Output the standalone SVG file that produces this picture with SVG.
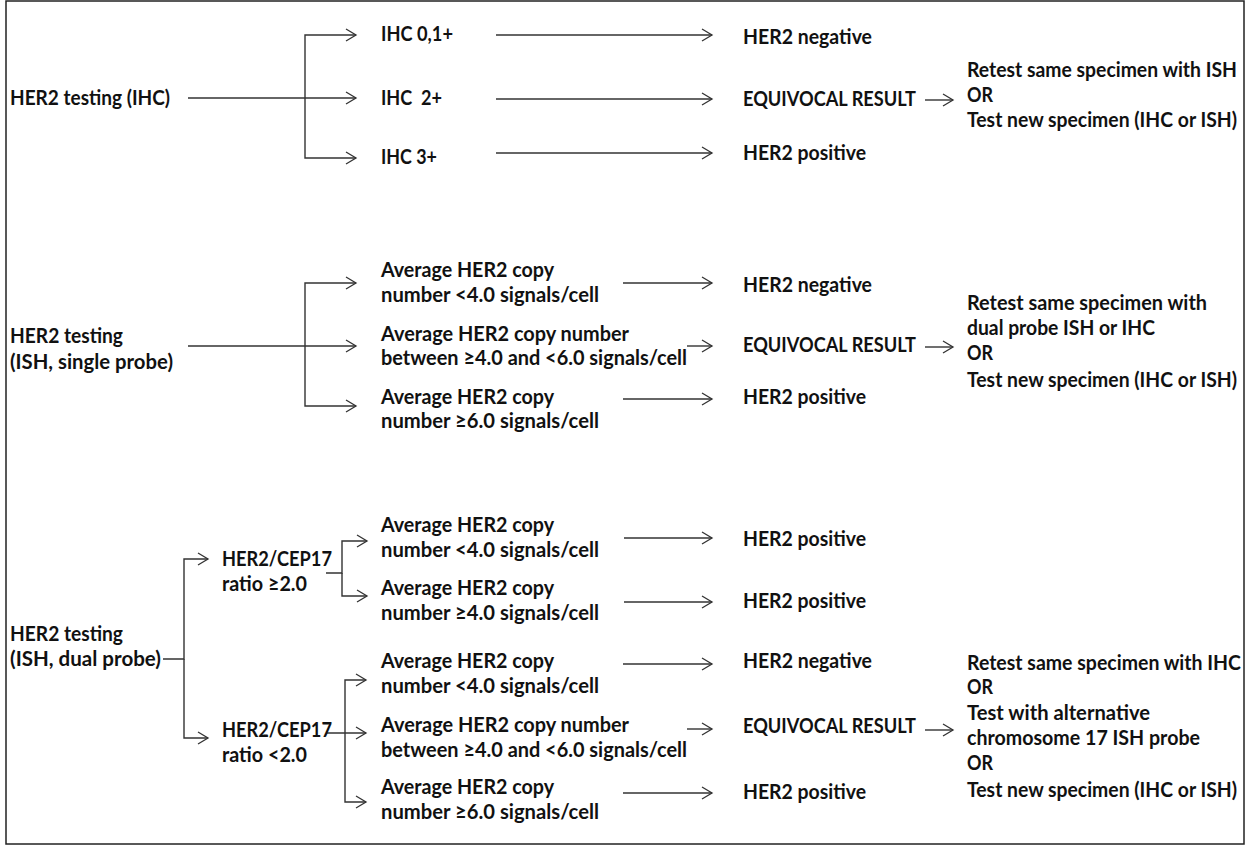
<svg xmlns="http://www.w3.org/2000/svg" width="1247" height="846" viewBox="0 0 1247 846">
<defs>
<style>
.t{font-family:Lato,"Open Sans","Liberation Sans",sans-serif;font-weight:bold;font-size:20px;fill:#111;}
.c{fill:none;stroke:#333;stroke-width:1.4;}
</style>
<marker id="ah" markerUnits="userSpaceOnUse" markerWidth="14" markerHeight="14" refX="11" refY="7" orient="auto">
<path d="M1,1 L11,7 L1,13" fill="none" stroke="#333" stroke-width="1.3"/>
</marker>
</defs>
<rect x="0" y="0" width="1247" height="846" fill="#fff"/>
<rect x="6" y="1" width="1238" height="843" fill="none" stroke="#222" stroke-width="1.5"/>

<g id="connectors" class="c" marker-end="url(#ah)">
<!-- section 1 -->
<path d="M188,98 H356"/>
<path d="M305,98 V35 H356"/>
<path d="M305,98 V158 H356"/>
<path d="M496,35 H712"/>
<path d="M496,99 H712"/>
<path d="M496,153 H712"/>
<path d="M925,100 H953"/>
<!-- section 2 -->
<path d="M188,346 H356"/>
<path d="M305,346 V283 H356"/>
<path d="M305,346 V406 H356"/>
<path d="M623,283 H712"/>
<path d="M687,346 H712"/>
<path d="M623,399 H712"/>
<path d="M925,347 H953"/>
<!-- section 3 -->
<path d="M163,659 H184 V559 H208"/>
<path d="M184,659 V738 H208"/>
<path d="M326,573 H342 V541 H367"/>
<path d="M342,573 V596 H367"/>
<path d="M624,538 H712"/>
<path d="M624,602 H712"/>
<path d="M326,733 H366"/>
<path d="M345,733 V680 H366"/>
<path d="M345,733 V802 H366"/>
<path d="M623,664 H712"/>
<path d="M687,729 H712"/>
<path d="M623,793 H712"/>
<path d="M925,730 H953"/>
</g>

<!-- Section 1 -->
<g id="n-ihc-test"><text class="t" x="10" y="105" textLength="160" lengthAdjust="spacingAndGlyphs">HER2 testing (IHC)</text></g>
<g id="n-ihc01"><text class="t" x="381" y="41" textLength="72" lengthAdjust="spacingAndGlyphs">IHC 0,1+</text></g>
<g id="n-ihc2"><text class="t" x="381" y="105" textLength="61" lengthAdjust="spacingAndGlyphs" xml:space="preserve">IHC  2+</text></g>
<g id="n-ihc3"><text class="t" x="381" y="164" textLength="56" lengthAdjust="spacingAndGlyphs">IHC 3+</text></g>
<g id="n-s1-neg"><text class="t" x="743" y="44" textLength="129" lengthAdjust="spacingAndGlyphs">HER2 negative</text></g>
<g id="n-s1-eq"><text class="t" x="743" y="106" textLength="173" lengthAdjust="spacingAndGlyphs">EQUIVOCAL RESULT</text></g>
<g id="n-s1-pos"><text class="t" x="743" y="160" textLength="123" lengthAdjust="spacingAndGlyphs">HER2 positive</text></g>
<g id="n-s1-retest">
<text class="t" x="967" y="77" textLength="270" lengthAdjust="spacingAndGlyphs">Retest same specimen with ISH</text>
<text class="t" x="967" y="102" textLength="26" lengthAdjust="spacingAndGlyphs">OR</text>
<text class="t" x="967" y="127" textLength="270" lengthAdjust="spacingAndGlyphs">Test new specimen (IHC or ISH)</text>
</g>

<!-- Section 2 -->
<g id="n-ish-single">
<text class="t" x="10" y="343" textLength="113" lengthAdjust="spacingAndGlyphs">HER2 testing</text>
<text class="t" x="10" y="369" textLength="163" lengthAdjust="spacingAndGlyphs">(ISH, single probe)</text>
</g>
<g id="n-s2-lt4">
<text class="t" x="381" y="277" textLength="173" lengthAdjust="spacingAndGlyphs">Average HER2 copy</text>
<text class="t" x="381" y="302" textLength="218" lengthAdjust="spacingAndGlyphs">number &lt;4.0 signals/cell</text>
</g>
<g id="n-s2-mid">
<text class="t" x="381" y="341" textLength="248" lengthAdjust="spacingAndGlyphs">Average HER2 copy number</text>
<text class="t" x="381" y="365" textLength="306" lengthAdjust="spacingAndGlyphs">between ≥4.0 and &lt;6.0 signals/cell</text>
</g>
<g id="n-s2-ge6">
<text class="t" x="381" y="404" textLength="173" lengthAdjust="spacingAndGlyphs">Average HER2 copy</text>
<text class="t" x="381" y="428" textLength="218" lengthAdjust="spacingAndGlyphs">number ≥6.0 signals/cell</text>
</g>
<g id="n-s2-neg"><text class="t" x="743" y="292" textLength="129" lengthAdjust="spacingAndGlyphs">HER2 negative</text></g>
<g id="n-s2-eq"><text class="t" x="743" y="352" textLength="173" lengthAdjust="spacingAndGlyphs">EQUIVOCAL RESULT</text></g>
<g id="n-s2-pos"><text class="t" x="743" y="404" textLength="123" lengthAdjust="spacingAndGlyphs">HER2 positive</text></g>
<g id="n-s2-retest">
<text class="t" x="967" y="310" textLength="240" lengthAdjust="spacingAndGlyphs">Retest same specimen with</text>
<text class="t" x="967" y="335" textLength="188" lengthAdjust="spacingAndGlyphs">dual probe ISH or IHC</text>
<text class="t" x="967" y="360" textLength="26" lengthAdjust="spacingAndGlyphs">OR</text>
<text class="t" x="967" y="387" textLength="270" lengthAdjust="spacingAndGlyphs">Test new specimen (IHC or ISH)</text>
</g>

<!-- Section 3 -->
<g id="n-ish-dual">
<text class="t" x="10" y="641" textLength="113" lengthAdjust="spacingAndGlyphs">HER2 testing</text>
<text class="t" x="10" y="666" textLength="151" lengthAdjust="spacingAndGlyphs">(ISH, dual probe)</text>
</g>
<g id="n-ratio-ge2">
<text class="t" x="222" y="566" textLength="110" lengthAdjust="spacingAndGlyphs">HER2/CEP17</text>
<text class="t" x="222" y="591" textLength="85" lengthAdjust="spacingAndGlyphs">ratio ≥2.0</text>
</g>
<g id="n-ratio-lt2">
<text class="t" x="222" y="737" textLength="110" lengthAdjust="spacingAndGlyphs">HER2/CEP17</text>
<text class="t" x="222" y="762" textLength="85" lengthAdjust="spacingAndGlyphs">ratio &lt;2.0</text>
</g>
<g id="n-s3a-lt4">
<text class="t" x="381" y="532" textLength="173" lengthAdjust="spacingAndGlyphs">Average HER2 copy</text>
<text class="t" x="381" y="557" textLength="218" lengthAdjust="spacingAndGlyphs">number &lt;4.0 signals/cell</text>
</g>
<g id="n-s3a-ge4">
<text class="t" x="381" y="595" textLength="173" lengthAdjust="spacingAndGlyphs">Average HER2 copy</text>
<text class="t" x="381" y="620" textLength="218" lengthAdjust="spacingAndGlyphs">number ≥4.0 signals/cell</text>
</g>
<g id="n-s3a-pos1"><text class="t" x="743" y="546" textLength="123" lengthAdjust="spacingAndGlyphs">HER2 positive</text></g>
<g id="n-s3a-pos2"><text class="t" x="743" y="608" textLength="123" lengthAdjust="spacingAndGlyphs">HER2 positive</text></g>
<g id="n-s3b-lt4">
<text class="t" x="381" y="668" textLength="173" lengthAdjust="spacingAndGlyphs">Average HER2 copy</text>
<text class="t" x="381" y="693" textLength="218" lengthAdjust="spacingAndGlyphs">number &lt;4.0 signals/cell</text>
</g>
<g id="n-s3b-mid">
<text class="t" x="381" y="732" textLength="248" lengthAdjust="spacingAndGlyphs">Average HER2 copy number</text>
<text class="t" x="381" y="757" textLength="306" lengthAdjust="spacingAndGlyphs">between ≥4.0 and &lt;6.0 signals/cell</text>
</g>
<g id="n-s3b-ge6">
<text class="t" x="381" y="794" textLength="173" lengthAdjust="spacingAndGlyphs">Average HER2 copy</text>
<text class="t" x="381" y="819" textLength="218" lengthAdjust="spacingAndGlyphs">number ≥6.0 signals/cell</text>
</g>
<g id="n-s3b-neg"><text class="t" x="743" y="668" textLength="129" lengthAdjust="spacingAndGlyphs">HER2 negative</text></g>
<g id="n-s3b-eq"><text class="t" x="743" y="733" textLength="173" lengthAdjust="spacingAndGlyphs">EQUIVOCAL RESULT</text></g>
<g id="n-s3b-pos"><text class="t" x="743" y="799" textLength="123" lengthAdjust="spacingAndGlyphs">HER2 positive</text></g>
<g id="n-s3b-retest">
<text class="t" x="967" y="670" textLength="274" lengthAdjust="spacingAndGlyphs">Retest same specimen with IHC</text>
<text class="t" x="967" y="694" textLength="26" lengthAdjust="spacingAndGlyphs">OR</text>
<text class="t" x="967" y="720" textLength="183" lengthAdjust="spacingAndGlyphs">Test with alternative</text>
<text class="t" x="967" y="745" textLength="233" lengthAdjust="spacingAndGlyphs">chromosome 17 ISH probe</text>
<text class="t" x="967" y="770" textLength="26" lengthAdjust="spacingAndGlyphs">OR</text>
<text class="t" x="967" y="797" textLength="270" lengthAdjust="spacingAndGlyphs">Test new specimen (IHC or ISH)</text>
</g>
</svg>
